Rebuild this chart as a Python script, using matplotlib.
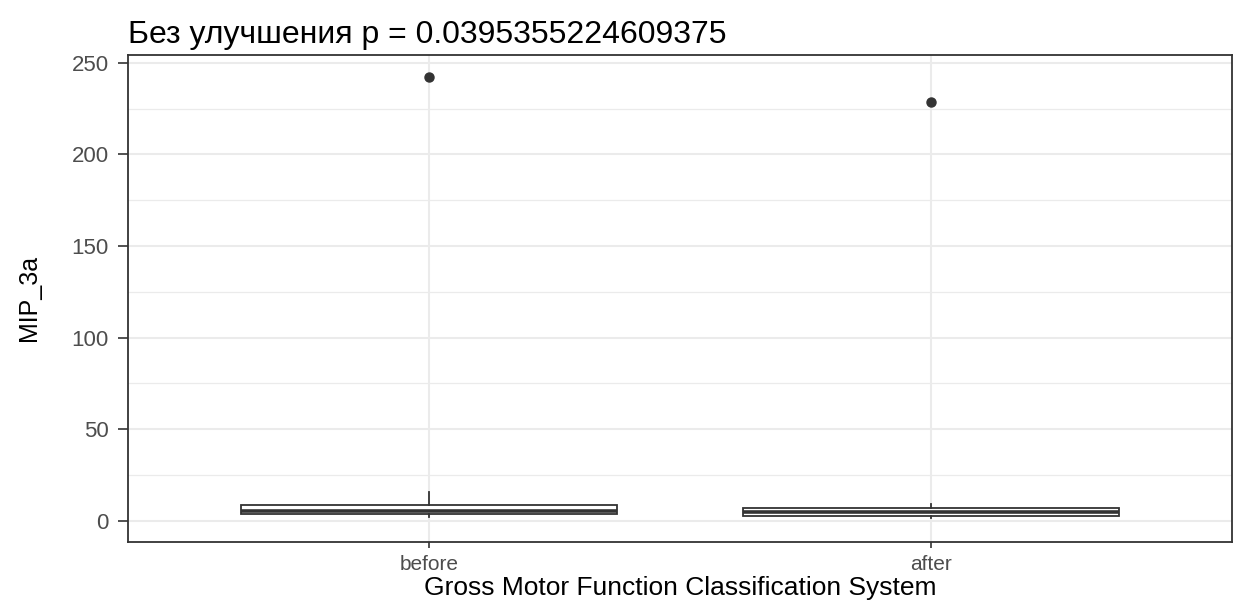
import matplotlib.pyplot as plt
from matplotlib.ticker import MultipleLocator

plt.rcParams['font.family'] = ['Liberation Sans', 'DejaVu Sans']

groups = ["before", "after"]
q1 = [3.7, 2.4]
median = [5.3, 4.6]
q3 = [8.6, 7.1]
whisker_low = [2.0, 1.3]
whisker_high = [15.7, 9.0]
outliers = [[242.0], [228.5]]

title = "Без улучшения p = 0.0395355224609375"
x_label = "Gross Motor Function Classification System"
y_label = "MIP_3a"

line_col = '#333333'
grid_col = '#EBEBEB'

fig = plt.figure(figsize=(12.33, 6), dpi=100)
ax = fig.add_axes([128 / 1233, 1 - 541.5 / 600, 1104 / 1233, 486.5 / 600])

stats = []
for i, name in enumerate(groups):
    stats.append({
        'label': name, 'q1': q1[i], 'med': median[i], 'q3': q3[i],
        'whislo': whisker_low[i], 'whishi': whisker_high[i], 'fliers': outliers[i],
    })

positions = list(range(1, len(groups) + 1))
ax.bxp(stats, positions=positions, widths=0.75, showcaps=False, patch_artist=True,
       boxprops=dict(facecolor='white', edgecolor=line_col, linewidth=1.3),
       medianprops=dict(color=line_col, linewidth=2.6),
       whiskerprops=dict(color=line_col, linewidth=1.3),
       flierprops=dict(marker='o', markerfacecolor=line_col, markeredgecolor=line_col,
                       markersize=6.5), zorder=3)

ax.set_xlim(0.4, 2.6)
ax.set_ylim(-11.3, 254.2)
ax.set_xticks(positions)
ax.set_xticklabels(groups)
ax.yaxis.set_major_locator(MultipleLocator(50))
ax.yaxis.set_minor_locator(MultipleLocator(25))

ax.grid(True, which='major', color=grid_col, linewidth=1.5, zorder=0)
ax.grid(True, which='minor', axis='y', color=grid_col, linewidth=0.9, zorder=0)
ax.set_axisbelow(True)

ax.tick_params(axis='y', which='major', length=7, width=1.2, color=line_col,
               labelsize=16, labelcolor='#4D4D4D', pad=7)
ax.tick_params(axis='y', which='minor', length=0)
ax.tick_params(axis='x', length=4, width=1.2, color=line_col,
               labelsize=15, labelcolor='#4D4D4D', pad=6)

for side in ax.spines.values():
    side.set_color(line_col)
    side.set_linewidth(1.3)

ax.set_xlabel(x_label, fontsize=19, labelpad=1)
ax.set_ylabel(y_label, fontsize=18, labelpad=22)
ax.set_title(title, loc='left', fontsize=23, pad=9)

fig.savefig('out.png', dpi=100)
